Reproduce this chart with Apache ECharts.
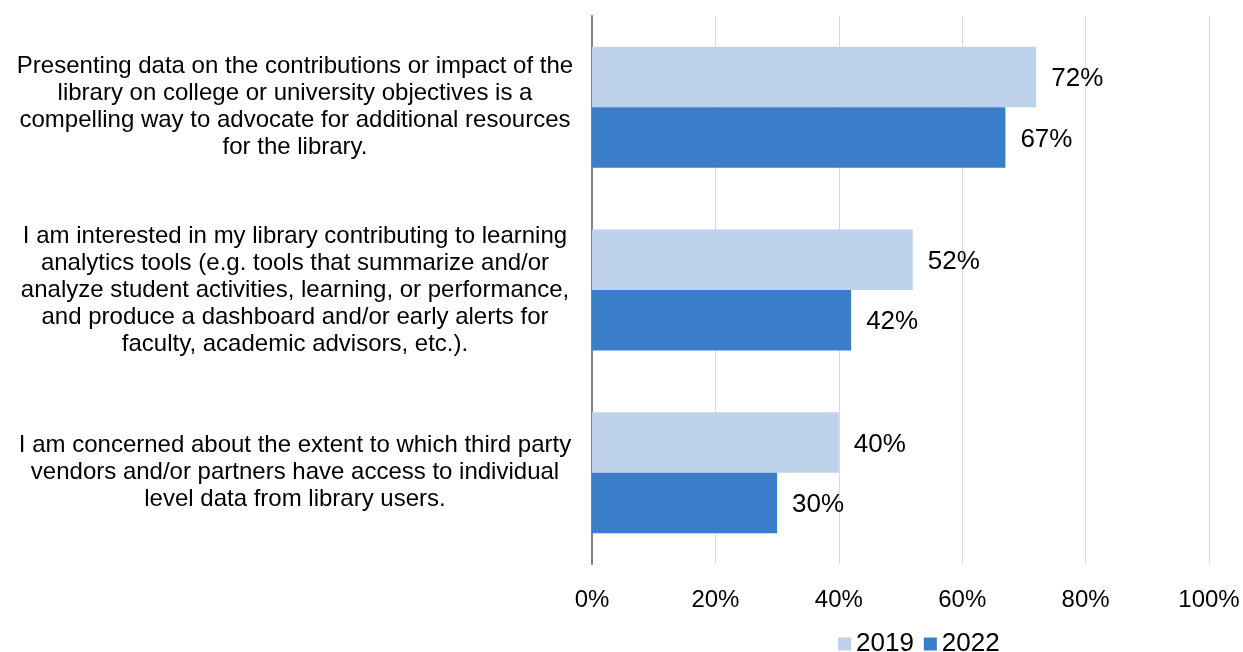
<!DOCTYPE html>
<html>
<head>
<meta charset="utf-8">
<script src="https://cdn.jsdelivr.net/npm/echarts@6/dist/echarts.min.js"></script>
<style>
  html, body { margin: 0; padding: 0; background: #fff; }
  #chart { width: 1243px; height: 652px; }
</style>
</head>
<body>
<div id="chart"></div>
<script>
// Survey statements (one per row, top to bottom)
const categories = [
  'Presenting data on the contributions or impact of the\nlibrary on college or university objectives is a\ncompelling way to advocate for additional resources\nfor the library.',
  'I am interested in my library contributing to learning\nanalytics tools (e.g. tools that summarize and/or\nanalyze student activities, learning, or performance,\nand produce a dashboard and/or early alerts for\nfaculty, academic advisors, etc.).',
  'I am concerned about the extent to which third party\nvendors and/or partners have access to individual\nlevel data from library users.'
];
// Share of respondents agreeing (%)
const values2019 = [72, 52, 40];
const values2022 = [67, 42, 30];
const seriesNames = ['2019', '2022'];

const FONT = '"Liberation Sans", Arial, sans-serif';
const chart = echarts.init(document.getElementById('chart'), null, { renderer: 'canvas' });

const labelStyle = {
  show: true,
  position: 'right',
  distance: 15,
  offset: [0, 2],
  formatter: p => p.value + '%',
  fontFamily: FONT,
  fontSize: 26,
  color: '#000'
};

chart.setOption({
  animation: false,
  textStyle: { fontFamily: FONT },
  grid: { left: 592, right: 34, top: 16, bottom: 88, containLabel: false },
  legend: {
    data: seriesNames,
    left: 833,
    top: 626,
    itemWidth: 13,
    itemHeight: 13,
    itemGap: 10,
    icon: 'rect',
    textStyle: { fontFamily: FONT, fontSize: 26, color: '#000', padding: [0, 0, 0, 0] }
  },
  xAxis: {
    type: 'value',
    min: 0,
    max: 100,
    interval: 20,
    axisLine: { show: false },
    axisTick: { show: false },
    splitLine: { show: true, lineStyle: { color: '#D9D9D9', width: 1 } },
    axisLabel: {
      formatter: v => v + '%',
      fontFamily: FONT,
      fontSize: 24,
      color: '#000',
      margin: 24
    }
  },
  yAxis: {
    type: 'category',
    inverse: true,
    data: categories,
    axisLine: { show: true, lineStyle: { color: '#808080', width: 2 } },
    axisTick: { show: false },
    axisLabel: {
      fontFamily: FONT,
      fontSize: 24,
      lineHeight: 27,
      color: '#000',
      align: 'center',
      margin: 297,
      padding: [4, 0, 0, 0]
    }
  },
  series: [
    {
      name: seriesNames[0],
      type: 'bar',
      data: values2019,
      barGap: '0%',
      barCategoryGap: '33.8%',
      itemStyle: { color: '#BFD2EB' },
      label: labelStyle
    },
    {
      name: seriesNames[1],
      type: 'bar',
      data: values2022,
      barGap: '0%',
      barCategoryGap: '33.8%',
      itemStyle: { color: '#3A7DC9' },
      label: labelStyle
    }
  ]
});
</script>
</body>
</html>
